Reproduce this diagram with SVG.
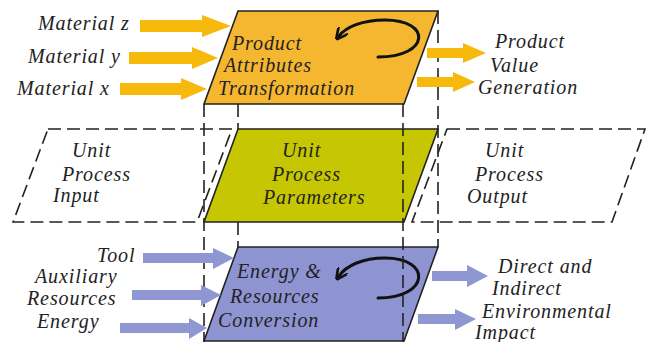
<svg xmlns="http://www.w3.org/2000/svg" width="654" height="342" viewBox="0 0 654 342" font-family="Liberation Serif, DejaVu Serif, serif">
<defs>
<style>
.t{font-style:italic;font-size:20px;letter-spacing:0.9px;fill:#222;}
.plate{stroke:#222;stroke-width:1.6;stroke-linejoin:miter;}
.dash{fill:none;stroke:#222;stroke-width:1.6;stroke-dasharray:13,6;}
.ya{fill:#F6B90C;}
.ba{fill:#8F97D3;}
.curl{fill:none;stroke:#111;stroke-width:3;stroke-linecap:round;}
</style>
<marker id="head" viewBox="0 0 10 10" refX="6" refY="5" markerWidth="4" markerHeight="4" orient="auto" markerUnits="strokeWidth">
<path d="M0,0 L10,5 L0,10" fill="none" stroke="#111" stroke-width="2.2"/>
</marker>
</defs>
<rect width="654" height="342" fill="#fff"/>

<g id="unit-process-input">
<polygon class="dash" points="48,129 232,129 197,222 13,222"/>
<text class="t" font-family="Liberation Serif, serif" x="72" y="157">Unit</text>
<text class="t" font-family="Liberation Serif, serif" x="62" y="181">Process</text>
<text class="t" font-family="Liberation Serif, serif" x="53" y="202">Input</text>
</g>

<g id="unit-process-output">
<polygon class="dash" points="447,129 645,129 612,222 412,222"/>
<text class="t" font-family="Liberation Serif, serif" x="485" y="157">Unit</text>
<text class="t" font-family="Liberation Serif, serif" x="475" y="181">Process</text>
<text class="t" font-family="Liberation Serif, serif" x="467" y="203">Output</text>
</g>

<g id="product-attributes">
<polygon class="plate" fill="#F5B630" points="238,11 438,11 404,104 204,104"/>
<text class="t" font-family="Liberation Serif, serif" x="232" y="50">Product</text>
<text class="t" font-family="Liberation Serif, serif" x="224" y="72">Attributes</text>
<text class="t" font-family="Liberation Serif, serif" x="218" y="95">Transformation</text>
<path class="curl" d="M378,57 C430,57 432,20 385,20 C362,20 346,27 339,36" marker-end="url(#head)"/>
</g>

<g id="unit-process-parameters">
<polygon class="plate" fill="#C6C702" points="238,129 438,129 404,222 204,222"/>
<text class="t" font-family="Liberation Serif, serif" x="282" y="157">Unit</text>
<text class="t" font-family="Liberation Serif, serif" x="272" y="181">Process</text>
<text class="t" font-family="Liberation Serif, serif" x="263" y="204">Parameters</text>
</g>

<g id="energy-resources">
<polygon class="plate" fill="#8E94D2" points="238,247 438,247 404,341 204,341"/>
<text class="t" font-family="Liberation Serif, serif" x="237" y="278">Energy &amp;</text>
<text class="t" font-family="Liberation Serif, serif" x="230" y="303">Resources</text>
<text class="t" font-family="Liberation Serif, serif" x="218" y="327">Conversion</text>
<path class="curl" d="M378,298 C430,298 432,258 385,258 C362,258 346,266 339,276" marker-end="url(#head)"/>
</g>

<g id="connectors">
<line class="dash" x1="204" y1="104" x2="204" y2="342"/>
<line class="dash" x1="403" y1="104" x2="403" y2="342"/>
<line class="dash" x1="238" y1="104" x2="238" y2="129"/>
<line class="dash" x1="238" y1="222" x2="238" y2="247"/>
<line class="dash" x1="438" y1="11" x2="438" y2="247"/>

<path class="ya" d="M140,20 L202,20 L202,15 L231,26 L202,37 L202,32 L140,32 Z"/>
<path class="ya" d="M129,52 L192,52 L192,47 L218,58 L192,69 L192,64 L129,64 Z"/>
<path class="ya" d="M120,83 L181,83 L181,78 L207,89 L181,100 L181,95 L120,95 Z"/>
<path class="ya" d="M427,48 L463,48 L463,43 L486,53 L463,63 L463,58 L427,58 Z"/>
<path class="ya" d="M417,77 L453,77 L453,72 L475,82 L453,92 L453,87 L417,87 Z"/>

<path class="ba" d="M143,253 L213,253 L213,248 L234,258 L213,269 L213,263 L143,263 Z"/>
<path class="ba" d="M132,290 L201,290 L201,285 L221,295 L201,306 L201,300 L132,300 Z"/>
<path class="ba" d="M120,323 L189,323 L189,318 L207,328 L189,339 L189,333 L120,333 Z"/>
<path class="ba" d="M432,271 L467,271 L467,265 L488,276 L467,287 L467,281 L432,281 Z"/>
<path class="ba" d="M418,314 L455,314 L455,309 L476,319 L455,330 L455,324 L418,324 Z"/>
</g>

<g id="labels" font-family="Liberation Serif, serif">
<text class="t" x="38" y="30">Material z</text>
<text class="t" x="28" y="63">Material y</text>
<text class="t" x="17" y="95">Material x</text>
<text class="t" x="495" y="48">Product</text>
<text class="t" x="490" y="72">Value</text>
<text class="t" x="478" y="94">Generation</text>
<text class="t" x="97" y="262">Tool</text>
<text class="t" x="35" y="283">Auxiliary</text>
<text class="t" x="27" y="305">Resources</text>
<text class="t" x="37" y="328">Energy</text>
<text class="t" x="498" y="273">Direct and</text>
<text class="t" x="492" y="295">Indirect</text>
<text class="t" x="482" y="318">Environmental</text>
<text class="t" x="475" y="339">Impact</text>
</g>
</svg>
